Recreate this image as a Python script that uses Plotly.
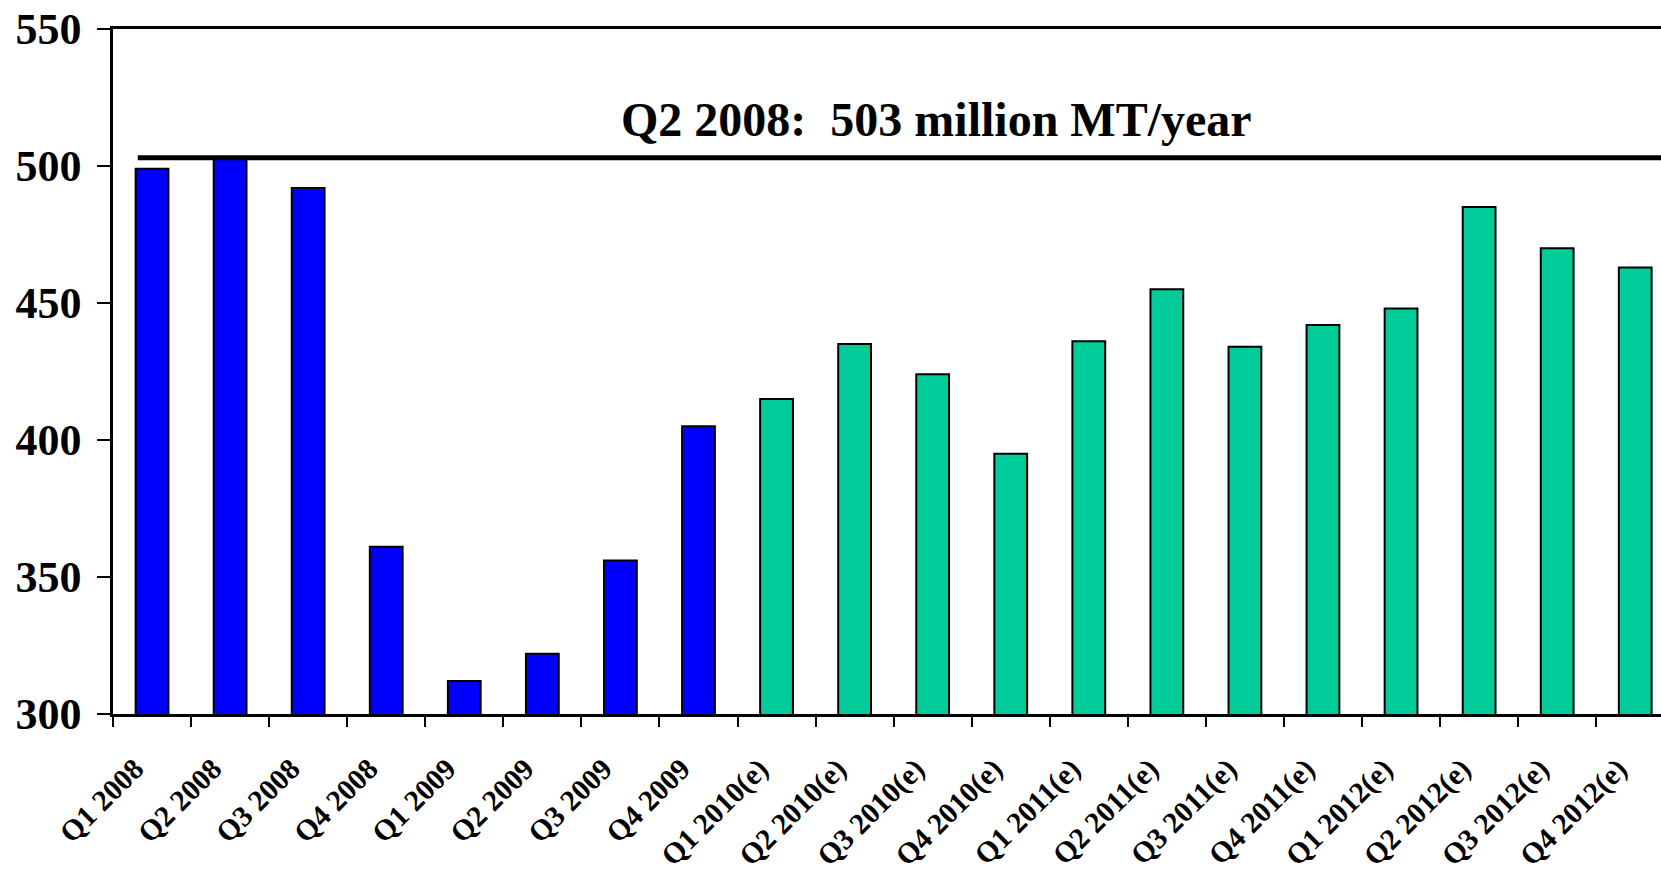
import plotly.graph_objects as go

# Quarterly output, million MT/year
actual_quarters = ["Q1 2008", "Q2 2008", "Q3 2008", "Q4 2008",
                   "Q1 2009", "Q2 2009", "Q3 2009", "Q4 2009"]
actual_values = [499, 503, 492, 361, 312, 322, 356, 405]

estimate_quarters = ["Q1 2010(e)", "Q2 2010(e)", "Q3 2010(e)", "Q4 2010(e)",
                     "Q1 2011(e)", "Q2 2011(e)", "Q3 2011(e)", "Q4 2011(e)",
                     "Q1 2012(e)", "Q2 2012(e)", "Q3 2012(e)", "Q4 2012(e)"]
estimate_values = [415, 435, 424, 395, 436, 455, 434, 442, 448, 485, 470, 463]

peak_value = 503
peak_label = "Q2 2008:\u00a0 503 million MT/year"

y_ticks = [300, 350, 400, 450, 500, 550]

FONT = "Liberation Serif"

fig = go.Figure()
fig.add_trace(go.Bar(
    x=actual_quarters, y=actual_values, width=0.42,
    marker=dict(color="#0000FF", line=dict(color="black", width=2)),
    showlegend=False,
))
fig.add_trace(go.Bar(
    x=estimate_quarters, y=estimate_values, width=0.42,
    marker=dict(color="#00CC99", line=dict(color="black", width=2)),
    showlegend=False,
))

# Peak reference line and its caption
fig.add_shape(type="line", xref="paper", yref="y",
              x0=0.016, x1=1, y0=peak_value, y1=peak_value,
              line=dict(color="black", width=5))
fig.add_annotation(xref="paper", yref="y", x=0.5317, y=517,
                   text=peak_label, showarrow=False,
                   font=dict(family=FONT, size=48, color="black", weight="bold"),
                   xanchor="center", yanchor="middle")

fig.update_layout(
    width=1661, height=872,
    margin=dict(l=113, r=0, t=29, b=158, pad=0, autoexpand=False),
    paper_bgcolor="white", plot_bgcolor="white",
    barmode="overlay",
    font=dict(family=FONT, color="black"),
)
fig.update_xaxes(
    type="category", automargin=False,
    categoryorder="array", categoryarray=actual_quarters + estimate_quarters,
    range=[-0.5, 19.33],
    tickson="boundaries", ticks="outside", ticklen=10, tickwidth=2, tickcolor="black",
    showline=True, linewidth=2.5, linecolor="black", mirror=True,
    showgrid=False, tickangle=-45,
    ticklabelstandoff=23, ticklabelshift=-17,
    tickfont=dict(family=FONT, size=29.5, color="black", weight="bold"),
)
fig.update_yaxes(
    range=[300, 550], tickvals=y_ticks, automargin=False,
    ticks="outside", ticklen=13, tickwidth=2, tickcolor="black",
    showline=True, linewidth=2.5, linecolor="black",
    showgrid=False, zeroline=False, ticklabelstandoff=7,
    tickfont=dict(family=FONT, size=44, color="black", weight="bold"),
)

fig.write_html("out.html")
